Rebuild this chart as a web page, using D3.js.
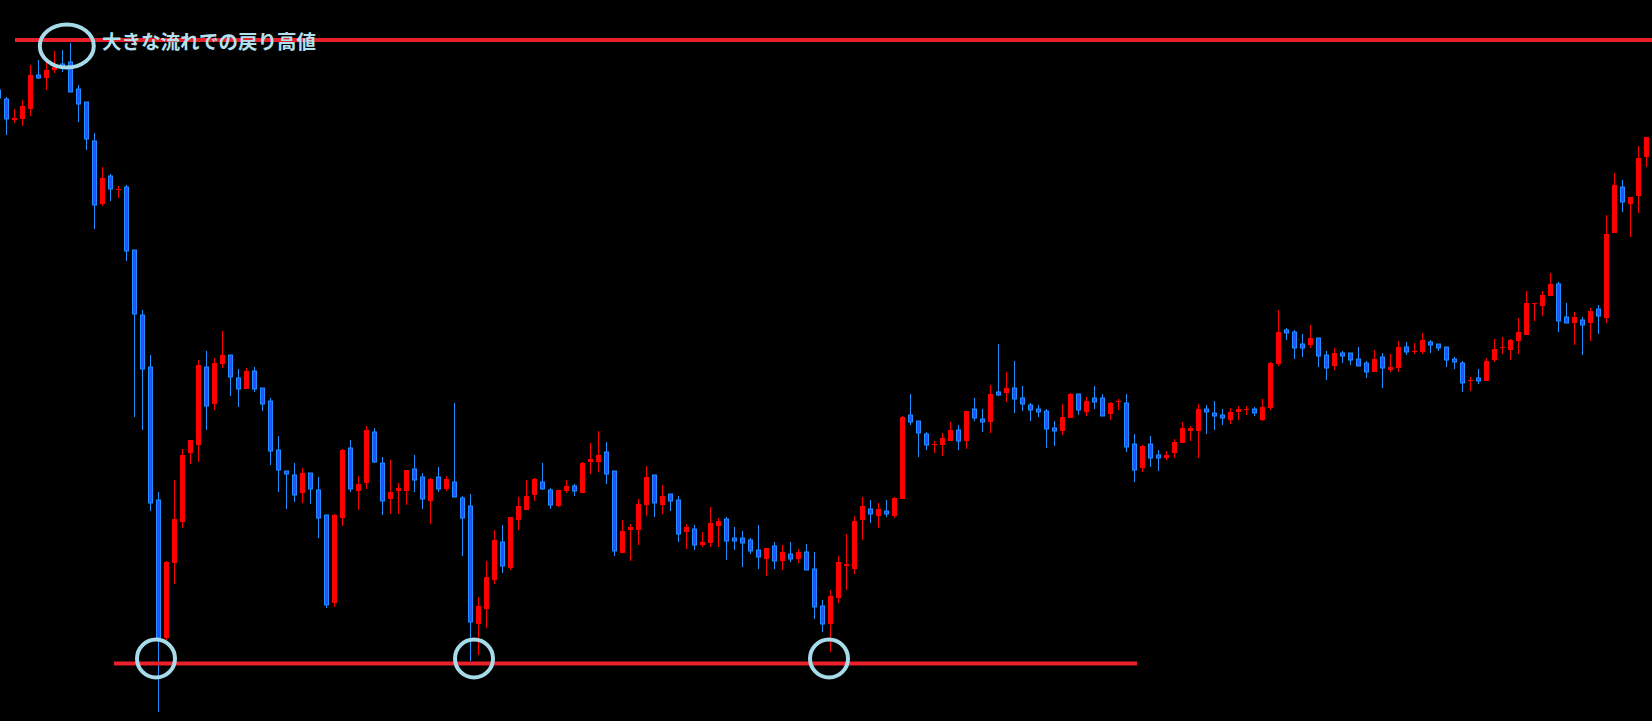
<!DOCTYPE html>
<html>
<head>
<meta charset="utf-8">
<script src="https://cdnjs.cloudflare.com/ajax/libs/d3/7.8.5/d3.min.js"></script>
<style>
  html, body { margin: 0; padding: 0; background: #000; overflow: hidden; }
  svg { display: block; }
</style>
</head>
<body>
<svg width="1652" height="721"></svg>
<script>
// price units (chart has no axis)
var open = [
  910, 901, 880, 881, 891, 925, 922, 930, 936, 938,
  911, 898, 859, 796, 824, 810, 813, 750, 685, 633,
  500, 362, 437, 478, 547, 555, 633, 596, 636, 645,
  622, 611, 629, 612, 599, 550, 529, 525, 507, 527,
  510, 485, 397, 482, 552, 509, 517, 568, 537, 501,
  509, 509, 531, 523, 499, 523, 511, 518, 502, 494,
  376, 391, 420, 458, 432, 480, 490, 505, 518, 510,
  494, 509, 514, 507, 538, 538, 548, 529, 447, 470,
  470, 495, 525, 495, 506, 500, 468, 471, 455, 457,
  474, 481, 462, 462, 460, 450, 441, 454, 439, 446,
  441, 448, 431, 394, 376, 402, 434, 431, 480, 491,
  484, 489, 484, 501, 585, 579, 566, 555, 555, 559,
  570, 559, 591, 581, 578, 608, 607, 612, 602, 595,
  591, 589, 572, 569, 582, 606, 588, 602, 602, 586,
  598, 597, 556, 532, 556, 545, 542, 547, 557, 569,
  569, 591, 587, 585, 580, 588, 590, 591, 580, 592,
  636, 670, 668, 656, 655, 662, 645, 634, 647, 647,
  641, 637, 628, 643, 630, 632, 653, 648, 648, 658,
  656, 653, 641, 637, 619, 622, 619, 640, 652, 650,
  659, 665, 696, 694, 704, 716, 683, 677, 680, 677,
  691, 682, 767, 813, 796, 804, 843
];
var high = [
  914, 903, 891, 900, 935, 940, 938, 949, 950, 957,
  915, 898, 867, 833, 826, 814, 815, 750, 690, 645,
  508, 439, 520, 551, 560, 640, 649, 642, 669, 645,
  631, 632, 633, 612, 602, 564, 529, 537, 532, 527,
  523, 485, 486, 551, 560, 524, 574, 572, 543, 540,
  517, 530, 545, 527, 522, 533, 524, 597, 504, 506,
  403, 439, 470, 475, 483, 503, 520, 522, 537, 512,
  510, 520, 516, 538, 557, 569, 558, 529, 480, 476,
  501, 534, 525, 515, 506, 504, 476, 475, 468, 493,
  482, 483, 473, 469, 462, 475, 452, 458, 455, 458,
  451, 456, 448, 400, 410, 444, 466, 484, 503, 500,
  497, 500, 503, 584, 606, 579, 568, 559, 567, 578,
  575, 589, 602, 591, 615, 656, 628, 639, 614, 597,
  595, 591, 579, 596, 607, 606, 603, 614, 606, 598,
  601, 606, 566, 555, 564, 550, 549, 561, 578, 574,
  596, 595, 599, 591, 592, 594, 594, 593, 601, 638,
  690, 672, 670, 666, 675, 662, 649, 652, 649, 647,
  653, 639, 650, 647, 646, 659, 658, 657, 667, 660,
  656, 653, 643, 639, 623, 631, 642, 661, 663, 661,
  682, 709, 697, 709, 727, 718, 697, 688, 683, 692,
  695, 785, 827, 820, 803, 854, 863
];
var low = [
  900, 865, 877, 874, 884, 921, 910, 927, 928, 908,
  878, 850, 771, 794, 799, 802, 739, 583, 570, 489,
  288, 360, 416, 472, 536, 538, 570, 590, 632, 604,
  593, 611, 608, 589, 535, 508, 491, 498, 497, 496,
  462, 392, 393, 474, 508, 490, 511, 537, 485, 486,
  486, 495, 508, 491, 476, 508, 509, 503, 444, 339,
  345, 372, 416, 427, 430, 470, 490, 499, 510, 491,
  493, 507, 504, 507, 526, 528, 516, 444, 447, 439,
  455, 484, 483, 486, 489, 458, 451, 450, 453, 453,
  453, 440, 450, 433, 446, 431, 424, 431, 430, 438,
  437, 430, 381, 368, 348, 397, 410, 426, 460, 477,
  472, 483, 482, 501, 575, 543, 550, 547, 544, 559,
  550, 551, 579, 568, 567, 604, 598, 587, 589, 579,
  583, 552, 554, 565, 582, 585, 584, 591, 584, 580,
  590, 548, 518, 528, 533, 529, 540, 542, 557, 559,
  542, 566, 570, 575, 576, 580, 585, 584, 579, 590,
  634, 660, 641, 643, 652, 633, 620, 630, 637, 635,
  634, 622, 628, 612, 628, 628, 645, 646, 646, 647,
  649, 633, 631, 608, 609, 616, 619, 638, 646, 640,
  646, 665, 679, 684, 704, 668, 677, 655, 645, 659,
  666, 677, 767, 788, 763, 787, 833
];
var close = [
  902, 881, 882, 894, 925, 922, 930, 933, 932, 908,
  896, 861, 795, 822, 811, 811, 749, 686, 631, 497,
  362, 438, 481, 545, 560, 635, 594, 637, 645, 623,
  611, 629, 611, 596, 549, 530, 526, 505, 527, 511,
  482, 395, 485, 550, 511, 516, 570, 538, 499, 508,
  512, 530, 520, 501, 521, 511, 521, 503, 482, 378,
  394, 423, 460, 434, 483, 494, 504, 521, 511, 495,
  510, 514, 509, 537, 541, 545, 526, 449, 469, 473,
  496, 523, 497, 504, 499, 466, 473, 455, 458, 477,
  479, 459, 459, 457, 449, 443, 452, 439, 448, 441,
  448, 430, 393, 376, 404, 438, 436, 479, 494, 486,
  491, 486, 502, 583, 578, 567, 555, 556, 562, 570,
  559, 589, 582, 578, 606, 605, 612, 601, 596, 590,
  588, 571, 569, 583, 606, 590, 599, 598, 584, 597,
  599, 553, 530, 554, 542, 542, 545, 558, 572, 572,
  591, 588, 584, 582, 588, 591, 591, 587, 593, 637,
  668, 667, 652, 652, 662, 644, 632, 647, 644, 640,
  634, 628, 641, 632, 633, 653, 648, 649, 660, 655,
  652, 640, 638, 617, 620, 619, 639, 651, 653, 660,
  668, 697, 697, 705, 716, 679, 677, 683, 675, 689,
  684, 766, 815, 798, 803, 842, 863
];

// horizontal levels drawn on the chart
var resistanceLevel = 960;
var supportLevel = 336.5;
var resistanceLabel = "大きな流れでの戻り高値";
// circled candles (index position)
var markedHigh = 8.6;
var markedLows = [19.75, 59.5, 103.875];

var svg = d3.select("svg"),
    width = +svg.attr("width"),
    height = +svg.attr("height");

var data = open.map(function(o, i) {
  return { i: i, open: o, high: high[i], low: low[i], close: close[i] };
});

var x = d3.scaleLinear()
    .domain([0, data.length - 1])
    .range([-2, 1646]);

var y = d3.scaleLinear()
    .domain([279, 1000])
    .range([height, 0]);

var upColor = "#ff0000",
    downFill = "#2a4dff",
    downStroke = "#1e90ff";

var g = svg.append("g");

// wicks
g.selectAll(".wick")
    .data(data)
  .enter().append("line")
    .attr("class", "wick")
    .attr("x1", function(d) { return Math.round(x(d.i)) + 0.5; })
    .attr("x2", function(d) { return Math.round(x(d.i)) + 0.5; })
    .attr("y1", function(d) { return y(d.high); })
    .attr("y2", function(d) { return y(d.low); })
    .attr("stroke", function(d) { return d.close >= d.open ? upColor : downStroke; })
    .attr("stroke-width", 1);

// bodies
g.selectAll(".body")
    .data(data)
  .enter().append("rect")
    .attr("class", "body")
    .attr("x", function(d) {
      var up = d.close >= d.open;
      return Math.round(x(d.i)) - 2 + (up ? 0 : 0.5);
    })
    .attr("width", function(d) { return d.close >= d.open ? 5 : 4; })
    .attr("y", function(d) { return y(Math.max(d.open, d.close)); })
    .attr("height", function(d) {
      return Math.max(1, Math.abs(y(d.open) - y(d.close)));
    })
    .attr("fill", function(d) { return d.close >= d.open ? upColor : downFill; })
    .attr("stroke", function(d) { return d.close >= d.open ? "none" : downStroke; })
    .attr("stroke-width", 1);

// resistance / support lines
svg.append("line")
    .attr("x1", 15).attr("x2", width)
    .attr("y1", y(resistanceLevel)).attr("y2", y(resistanceLevel))
    .attr("stroke", "#e8212b")
    .attr("stroke-width", 4);

svg.append("line")
    .attr("x1", 114).attr("x2", 1137)
    .attr("y1", y(supportLevel)).attr("y2", y(supportLevel))
    .attr("stroke", "#e8212b")
    .attr("stroke-width", 4);

// circles around the turning points
var ringColor = "#a6dcea";

svg.append("ellipse")
    .attr("cx", x(markedHigh))
    .attr("cy", y(resistanceLevel) + 6)
    .attr("rx", 27)
    .attr("ry", 21.5)
    .attr("fill", "none")
    .attr("stroke", ringColor)
    .attr("stroke-width", 4);

svg.selectAll(".ring")
    .data(markedLows)
  .enter().append("circle")
    .attr("class", "ring")
    .attr("cx", function(d) { return x(d); })
    .attr("cy", y(supportLevel) - 5)
    .attr("r", 19)
    .attr("fill", "none")
    .attr("stroke", ringColor)
    .attr("stroke-width", 4);

svg.append("text")
    .attr("x", 102)
    .attr("y", y(resistanceLevel) + 4)
    .attr("dominant-baseline", "middle")
    .attr("fill", "#b3e0ee")
    .style("font-family", "'Noto Sans CJK JP', sans-serif")
    .style("font-weight", "bold")
    .style("font-size", "19.5px")
    .text(resistanceLabel);
</script>
</body>
</html>
